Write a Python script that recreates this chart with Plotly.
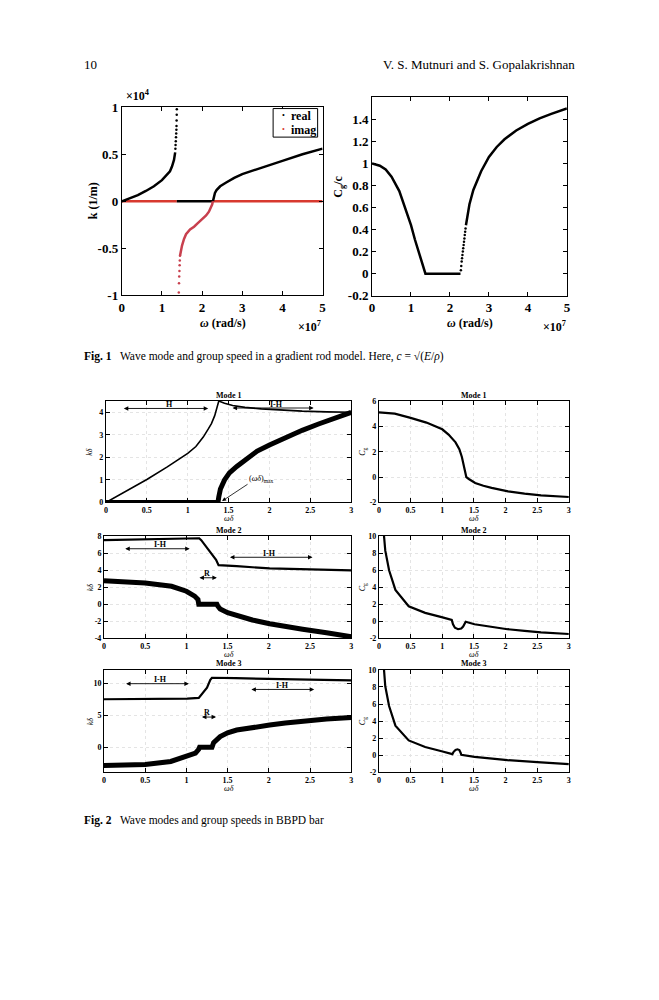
import plotly.graph_objects as go

# ---------------- Fig. 1 data (omega in 1e7 rad/s, k in 1e4 1/m) ----------------
w_real1 = [0, 0.2, 0.4, 0.6, 0.8, 1.0, 1.1, 1.2, 1.25, 1.3, 1.33]
k_real1 = [0, 0.03, 0.065, 0.11, 0.16, 0.225, 0.27, 0.32, 0.37, 0.44, 0.52]
w_real1_tail = [1.335, 1.34, 1.345, 1.35, 1.355, 1.36, 1.362, 1.365, 1.368, 1.37]
k_real1_tail = [0.56, 0.6, 0.64, 0.68, 0.72, 0.76, 0.8, 0.86, 0.92, 0.98]
w_real0 = [1.37, 2.27]
k_real0 = [0, 0]
w_real2 = [2.27, 2.29, 2.32, 2.36, 2.45, 2.6, 2.8, 3.0, 3.3, 3.6, 4.0, 4.5, 5.0]
k_real2 = [0, 0.05, 0.09, 0.12, 0.16, 0.2, 0.25, 0.29, 0.33, 0.37, 0.43, 0.5, 0.56]
w_imag_tail = [1.42, 1.425, 1.43, 1.435, 1.44, 1.445, 1.45]
k_imag_tail = [-0.97, -0.87, -0.8, -0.74, -0.68, -0.63, -0.58]
w_imag = [1.45, 1.47, 1.5, 1.55, 1.6, 1.7, 1.8, 1.9, 2.0, 2.1, 2.17, 2.22, 2.25, 2.27]
k_imag = [-0.58, -0.53, -0.47, -0.4, -0.35, -0.3, -0.27, -0.23, -0.19, -0.15, -0.11, -0.07, -0.035, 0]
w_imag0a = [0, 1.37]
w_imag0b = [2.27, 5.0]

w_cg1 = [0, 0.2, 0.35, 0.5, 0.7, 0.9, 1.0, 1.1, 1.2, 1.3, 1.37, 2.27]
cg1 = [1.0, 0.98, 0.945, 0.88, 0.75, 0.55, 0.44, 0.31, 0.19, 0.07, 0, 0]
w_cg_tail = [2.28, 2.29, 2.3, 2.31, 2.32, 2.33, 2.34, 2.35, 2.36, 2.37, 2.38, 2.39, 2.4]
cg_tail = [0.03, 0.07, 0.11, 0.14, 0.17, 0.2, 0.23, 0.26, 0.29, 0.32, 0.35, 0.38, 0.41]
w_cg2 = [2.41, 2.5, 2.6, 2.8, 3.0, 3.2, 3.4, 3.7, 4.0, 4.3, 4.6, 5.0]
cg2 = [0.44, 0.63, 0.76, 0.93, 1.06, 1.15, 1.22, 1.3, 1.36, 1.41, 1.45, 1.5]

# ---------------- Fig. 2 data (omega*delta, k*delta, Cg) ----------------
m1_thin_a_x = [0, 0.25, 0.5, 0.75, 1.0, 1.1, 1.19, 1.25, 1.29, 1.33, 1.36, 1.38]
m1_thin_a_y = [0, 0.5, 1.02, 1.58, 2.18, 2.48, 2.9, 3.25, 3.5, 3.85, 4.2, 4.5]
m1_thin_b_x = [1.38, 1.45, 1.55, 1.7, 1.9, 2.1, 2.4, 2.7, 3.0]
m1_thin_b_y = [4.5, 4.4, 4.3, 4.22, 4.15, 4.1, 4.05, 4.02, 4.0]
m1_thick_x = [0, 1.37, 1.38, 1.4, 1.45, 1.51, 1.6, 1.72, 1.85, 2.0, 2.2, 2.4, 2.6, 2.81, 3.0]
m1_thick_y = [0, 0, 0.25, 0.6, 1.0, 1.31, 1.6, 1.96, 2.28, 2.55, 2.9, 3.2, 3.48, 3.74, 4.0]
m1_cg_x = [0, 0.25, 0.5, 0.75, 1.0, 1.1, 1.21, 1.27, 1.31, 1.34, 1.36, 1.38, 1.42, 1.52,
           1.65, 1.78, 2.04, 2.3, 2.56, 2.8, 3.0]
m1_cg_y = [5.1, 5.0, 4.67, 4.3, 3.77, 3.35, 2.74, 2.2, 1.59, 1.0, 0.4, 0.0, -0.15, -0.46,
           -0.68, -0.85, -1.12, -1.31, -1.44, -1.52, -1.57]

m2_thin_x = [0, 0.5, 1.0, 1.155, 1.18, 1.215, 1.25, 1.29, 1.33, 1.36, 1.39, 1.45, 1.61,
             2.01, 2.41, 2.8, 3.0]
m2_thin_y = [7.5, 7.57, 7.66, 7.73, 7.5, 7.05, 6.6, 6.1, 5.6, 5.2, 4.57, 4.52, 4.46,
             4.19, 4.08, 4.0, 3.96]
m2_thick_x = [0, 0.25, 0.5, 0.82, 1.0, 1.1, 1.14, 1.15, 1.37, 1.38, 1.41, 1.5, 1.61, 1.8,
              2.01, 2.2, 2.41, 2.7, 3.0]
m2_thick_y = [2.74, 2.66, 2.48, 2.1, 1.52, 0.95, 0.55, 0, 0, -0.2, -0.57, -1.0, -1.33, -1.85,
              -2.29, -2.63, -2.93, -3.35, -3.81]
m2_cg_x = [0.08, 0.1, 0.16, 0.26, 0.47, 0.73, 0.99, 1.15, 1.17, 1.2, 1.25, 1.3, 1.33, 1.35,
           1.37, 1.51, 1.77, 2.03, 2.3, 2.56, 3.0]
m2_cg_y = [10, 8.27, 5.97, 3.67, 1.76, 0.99, 0.49, 0.15, -0.35, -0.75, -0.93, -0.85, -0.62, -0.3,
           -0.05, -0.35, -0.66, -0.93, -1.12, -1.3, -1.49]

m3_thin_x = [0, 0.5, 1.01, 1.15, 1.19, 1.25, 1.29, 1.31, 1.6, 2.01, 2.5, 3.0]
m3_thin_y = [7.47, 7.5, 7.58, 7.68, 8.35, 9.28, 10.5, 10.82, 10.75, 10.67, 10.55, 10.41]
m3_thick_x = [0, 0.5, 0.81, 1.01, 1.11, 1.15, 1.16, 1.31, 1.33, 1.41, 1.5, 1.61, 1.8, 2.01,
              2.2, 2.41, 2.7, 3.0]
m3_thick_y = [-2.85, -2.7, -2.22, -1.44, -0.93, -0.31, 0, 0, 0.72, 1.65, 2.25, 2.68, 3.1, 3.45,
              3.78, 4.07, 4.38, 4.64]
m3_cg_x = [0.08, 0.1, 0.16, 0.26, 0.47, 0.73, 0.99, 1.16, 1.18, 1.21, 1.24, 1.27, 1.29, 1.3,
           1.51, 2.03, 2.56, 3.0]
m3_cg_y = [10, 8.08, 5.77, 3.46, 1.73, 0.96, 0.46, 0.12, 0.4, 0.62, 0.69, 0.6, 0.3, 0.05,
           -0.19, -0.58, -0.85, -1.04]

wd_ticks = [0, 0.5, 1, 1.5, 2, 2.5, 3]
wd_ticktext = ["0", "0.5", "1", "1.5", "2", "2.5", "3"]

# page is placed inside the body's 8px margin, so work in page pixels and convert
W, H = 659, 1000
OFF = 8
PW, PH = W - 2 * OFF, H - 2 * OFF
SERIF = "Liberation Serif"
RED = "#d8392f"
PINK = "#c8404e"


def fx(x):
    return (x - OFF) / PW


def fy(y):
    return 1 - (y - OFF) / PH


def px(x0, x1):
    return [fx(x0), fx(x1)]


def py(top, bottom):
    return [fy(bottom), fy(top)]


def line(x, y, ax, width=2.5, color="black", mode="lines", msize=2.5):
    return go.Scatter(x=x, y=y, xaxis="x" + ax, yaxis="y" + ax, mode=mode,
                      line=dict(color=color, width=width),
                      marker=dict(color=color, size=msize), showlegend=False)


fig = go.Figure()

# Fig 1 left
fig.add_trace(line(w_imag0a, [0, 0], "1", width=2.5, color=RED))
fig.add_trace(line(w_imag0b, [0, 0], "1", width=2.5, color=RED))
fig.add_trace(line(w_real0, k_real0, "1"))
fig.add_trace(line(w_real1, k_real1, "1"))
fig.add_trace(line(w_real1_tail, k_real1_tail, "1", mode="markers"))
fig.add_trace(line(w_real2, k_real2, "1"))
fig.add_trace(line(w_imag, k_imag, "1", color=PINK, width=2.5))
fig.add_trace(line(w_imag_tail, k_imag_tail, "1", color=PINK, mode="markers"))

# Fig 1 right
fig.add_trace(line(w_cg1, cg1, "2"))
fig.add_trace(line(w_cg_tail, cg_tail, "2", mode="markers"))
fig.add_trace(line(w_cg2, cg2, "2"))

# Fig 2
THIN, THICK = 1.6, 5
fig.add_trace(line(m1_thin_a_x, m1_thin_a_y, "3", width=THIN))
fig.add_trace(line(m1_thin_b_x, m1_thin_b_y, "3", width=THIN))
fig.add_trace(line(m1_thick_x, m1_thick_y, "3", width=THICK))
fig.add_trace(line(m1_cg_x, m1_cg_y, "4", width=2.2))
fig.add_trace(line(m2_thin_x, m2_thin_y, "5", width=2.2))
fig.add_trace(line(m2_thick_x, m2_thick_y, "5", width=THICK))
fig.add_trace(line(m2_cg_x, m2_cg_y, "6", width=2.2))
fig.add_trace(line(m3_thin_x, m3_thin_y, "7", width=2.2))
fig.add_trace(line(m3_thick_x, m3_thick_y, "7", width=THICK))
fig.add_trace(line(m3_cg_x, m3_cg_y, "8", width=2.2))


def axis_common(size, grid=False):
    return dict(showline=True, linecolor="black", linewidth=1, mirror="allticks",
                ticks="inside", ticklen=4, tickcolor="black", zeroline=False,
                showgrid=grid, gridcolor="#e4e4e4", griddash="dot", gridwidth=1,
                tickfont=dict(family=SERIF, size=size, color="black", weight="bold"))


fig1_x = dict(range=[0, 5], tickvals=[0, 1, 2, 3, 4, 5], **axis_common(13))
fig2_x = dict(range=[0, 3], tickvals=wd_ticks, ticktext=wd_ticktext, **axis_common(8, True))

fig.update_layout(
    width=PW, height=PH, margin=dict(l=0, r=0, t=0, b=0),
    paper_bgcolor="white", plot_bgcolor="white", showlegend=False,
    font=dict(family=SERIF, color="black"),
    xaxis1=dict(domain=px(120, 323), anchor="y1", **fig1_x),
    yaxis1=dict(domain=py(101.7, 292.7), anchor="x1", range=[-1, 1],
                tickvals=[-1, -0.5, 0, 0.5, 1], ticktext=["-1", "-0.5", "0", "0.5", "1"],
                **axis_common(13)),
    xaxis2=dict(domain=px(373, 570), anchor="y2", **fig1_x),
    yaxis2=dict(domain=py(91.7, 293), anchor="x2", range=[-0.2, 1.6],
                tickvals=[-0.2, 0, 0.2, 0.4, 0.6, 0.8, 1, 1.2, 1.4],
                ticktext=["-0.2", "0", "0.2", "0.4", "0.6", "0.8", "1", "1.2", "1.4"],
                **axis_common(13)),
    xaxis3=dict(domain=px(104, 352), anchor="y3", **fig2_x),
    yaxis3=dict(domain=py(400, 503), anchor="x3", range=[0, 4.5], tickvals=[0, 1, 2, 3, 4],
                **axis_common(8, True)),
    xaxis4=dict(domain=px(380, 572), anchor="y4", **fig2_x),
    yaxis4=dict(domain=py(400, 503), anchor="x4", range=[-2, 6], tickvals=[-2, 0, 2, 4, 6],
                ticktext=["-2", "0", "2", "4", "6"], **axis_common(8, True)),
    xaxis5=dict(domain=px(102, 352), anchor="y5", **fig2_x),
    yaxis5=dict(domain=py(537, 641), anchor="x5", range=[-4, 8],
                tickvals=[-4, -2, 0, 2, 4, 6, 8], ticktext=["-4", "-2", "0", "2", "4", "6", "8"],
                **axis_common(8, True)),
    xaxis6=dict(domain=px(380, 572), anchor="y6", **fig2_x),
    yaxis6=dict(domain=py(537, 641), anchor="x6", range=[-2, 10],
                tickvals=[-2, 0, 2, 4, 6, 8, 10], ticktext=["-2", "0", "2", "4", "6", "8", "10"],
                **axis_common(8, True)),
    xaxis7=dict(domain=px(102, 352), anchor="y7", **fig2_x),
    yaxis7=dict(domain=py(673, 777), anchor="x7", range=[-3.9, 12.05], tickvals=[0, 5, 10],
                **axis_common(8, True)),
    xaxis8=dict(domain=px(380, 572), anchor="y8", **fig2_x),
    yaxis8=dict(domain=py(673, 777), anchor="x8", range=[-2, 10],
                tickvals=[-2, 0, 2, 4, 6, 8, 10], ticktext=["-2", "0", "2", "4", "6", "8", "10"],
                **axis_common(8, True)),
)


def text(x, y, s, size=12, xanchor="center", yanchor="middle", angle=0, weight="normal",
         xref="paper", yref="paper", color="black"):
    if xref == "paper":
        x, y = fx(x), fy(y)
    fig.add_annotation(x=x, y=y, xref=xref, yref=yref, text=s, showarrow=False,
                       xanchor=xanchor, yanchor=yanchor, textangle=angle,
                       font=dict(family=SERIF, size=size, color=color, weight=weight))


# page header and captions
text(80, 58, "10", size=13, xanchor="left")
text(580, 58, "V. S. Mutnuri and S. Gopalakrishnan", size=13, xanchor="right")
text(80, 355, "<b>Fig. 1</b>   Wave mode and group speed in a gradient rod model. Here, "
     "<i>c</i> = √(<i>E</i>/<i>ρ</i>)", size=11.5, xanchor="left")
text(80, 826, "<b>Fig. 2</b>   Wave modes and group speeds in BBPD bar", size=11.5, xanchor="left")

# Fig 1 legend box (drawn by hand to keep it compact)
fig.add_shape(type="rect", xref="paper", yref="paper", x0=fx(273), x1=fx(318),
              y0=fy(132), y1=fy(103), line=dict(color="black", width=1), fillcolor="white")
text(283, 110, "•", size=8, color="black")
text(283, 124, "•", size=8, color=RED)
text(289, 111, "real", size=12, xanchor="left", weight="bold")
text(289, 125, "imag", size=12, xanchor="left", weight="bold")

# Fig 1 labels
text(122, 90, "×10<sup>4</sup>", size=12, xanchor="left", weight="bold")
text(323, 324, "×10<sup>7</sup>", size=12, xanchor="right", weight="bold")
text(571, 324, "×10<sup>7</sup>", size=12, xanchor="right", weight="bold")
text(222, 321, "<i>ω</i> (rad/s)", size=12, weight="bold")
text(472, 321, "<i>ω</i> (rad/s)", size=12, weight="bold")
text(91, 197, "k (1/m)", size=12, angle=-90, weight="bold")
text(340, 182, "C<sub>g</sub>/c", size=12, angle=-90, weight="bold")

# Fig 2 titles and axis labels
rows = [(400, 503, "Mode 1"), (537, 641, "Mode 2"), (673, 777, "Mode 3")]
for top, bottom, title in rows:
    text(228, top - 6, title, size=8, weight="bold")
    text(476, top - 6, title, size=8, weight="bold")
    text(228, bottom + 16, "<i>ωδ</i>", size=8)
    text(476, bottom + 16, "<i>ωδ</i>", size=8)
    text(88, (top + bottom) / 2, "<i>kδ</i>", size=8, angle=-90)
    text(364, (top + bottom) / 2, "<i>C</i><sub>g</sub>", size=8, angle=-90)

# double-headed range arrows: (axis, x_start, x_end, y, label, label_x, label_y)
ranges = [
    ("3", 0.2, 1.25, 4.17, "H", 0.78, 4.33),
    ("3", 1.53, 2.54, 4.19, "I-H", 2.08, 4.33),
    ("5", 0.24, 1.04, 6.5, "I-H", 0.68, 6.95),
    ("5", 1.51, 2.53, 5.5, "I-H", 2.01, 5.98),
    ("5", 1.14, 1.37, 3.1, "R", 1.25, 3.6),
    ("7", 0.25, 1.03, 9.9, "I-H", 0.69, 10.55),
    ("7", 1.77, 2.55, 9.0, "I-H", 2.17, 9.65),
    ("7", 1.17, 1.36, 4.7, "R", 1.25, 5.4),
]
for ax, xs, xe, yv, lab, lx, ly in ranges:
    fig.add_annotation(x=xe, y=yv, ax=xs, ay=yv, xref="x" + ax, yref="y" + ax,
                       axref="x" + ax, ayref="y" + ax, text="", showarrow=True,
                       arrowside="end+start", arrowhead=2, arrowsize=1, arrowwidth=0.9,
                       arrowcolor="black")
    text(lx, ly, lab, size=8, weight="bold", xref="x" + ax, yref="y" + ax)

fig.add_annotation(x=1.42, y=0.06, ax=1.75, ay=0.85, xref="x3", yref="y3", axref="x3",
                   ayref="y3", text="", showarrow=True, arrowhead=2, arrowsize=1,
                   arrowwidth=0.8, arrowcolor="black")
text(1.9, 1.05, "(<i>ωδ</i>)<sub>max</sub>", size=8, xref="x3", yref="y3")

fig.write_html("out.html")
